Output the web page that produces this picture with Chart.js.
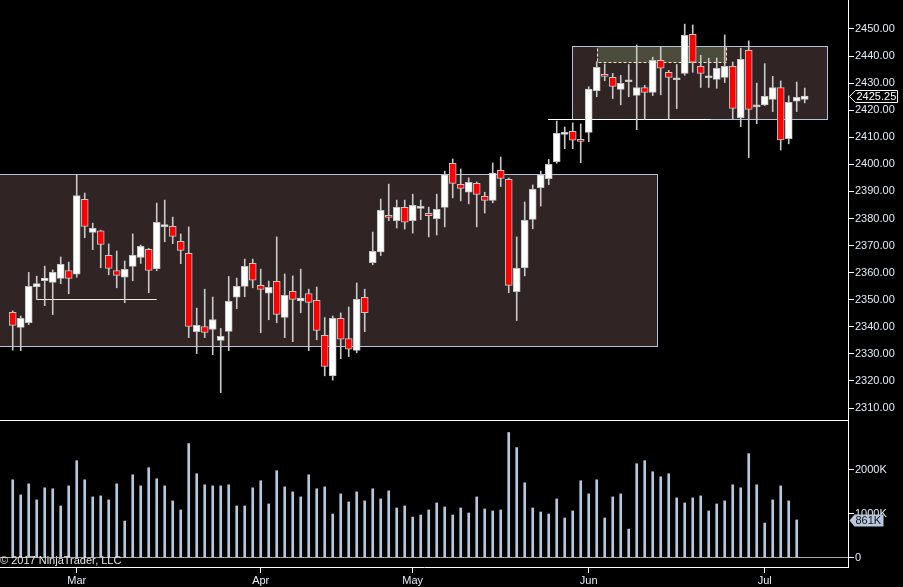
<!DOCTYPE html>
<html>
<head>
<meta charset="utf-8">
<script src="https://cdn.jsdelivr.net/npm/chart.js@4/dist/chart.umd.min.js"></script>
<style>
  html, body { margin: 0; padding: 0; background: #000; overflow: hidden; }
  #wrap { position: relative; width: 903px; height: 587px; }
  canvas { position: absolute; left: 0; }
  #price { top: 0; width: 903px; height: 421px; }
  #volume { top: 421px; width: 903px; height: 166px; }
</style>
</head>
<body>
<div id="wrap">
  <canvas id="price" width="903" height="421"></canvas>
  <canvas id="volume" width="903" height="166"></canvas>
</div>
<script>
// daily bars, Feb 16 - Jul 2017 (bar index = trading day)
const opens = [
  2345.3, 2339.8, 2341.5, 2354.8, 2357.0, 2356.4, 2357.9, 2360.8, 2359.4, 2387.1,
  2374.9, 2375.4, 2366.4, 2360.8, 2358.3, 2362.3, 2365.6, 2368.6, 2361.5, 2377.0,
  2377.1, 2371.6, 2367.1, 2338.2, 2340.1, 2339.0, 2335.0, 2338.3, 2350.9, 2354.9,
  2363.4, 2355.3, 2352.4, 2356.8, 2343.5, 2353.1, 2349.6, 2352.3, 2349.8, 2336.8,
  2321.9, 2343.1, 2335.6, 2331.3, 2350.9, 2363.7, 2367.7, 2381.2, 2379.2, 2384.1,
  2379.2, 2383.75, 2381.9, 2379.9, 2384.1, 2400.4, 2392.6, 2389.7, 2393.0, 2388.2,
  2386.7, 2397.8, 2394.5, 2353.0, 2361.8, 2379.7, 2391.4, 2394.7, 2401.0, 2411.1,
  2412.2, 2408.75, 2411.8, 2427.2, 2433.2, 2432.1, 2427.7, 2430.5, 2425.5, 2428.4,
  2426.6, 2438.4, 2434.0, 2431.25, 2433.6, 2448.0, 2436.2, 2432.0, 2431.4, 2432.1,
  2436.2, 2417.2, 2442.1, 2421.25, 2422.0, 2424.0, 2428.4, 2409.5, 2423.3, 2424.0
];
const highs = [
  2345.9, 2344.0, 2360.1, 2358.7, 2362.4, 2361.0, 2365.8, 2363.9, 2396.1, 2389.4,
  2378.3, 2375.7, 2370.6, 2368.0, 2364.3, 2374.3, 2370.2, 2369.0, 2385.7, 2386.8,
  2380.5, 2374.3, 2376.9, 2346.9, 2353.9, 2351.0, 2339.4, 2358.6, 2358.0, 2365.0,
  2365.0, 2361.3, 2356.9, 2373.2, 2359.5, 2358.8, 2361.3, 2353.9, 2354.7, 2343.4,
  2344.0, 2345.1, 2347.3, 2356.2, 2353.9, 2375.0, 2387.2, 2392.7, 2386.8, 2386.8,
  2389.0, 2386.8, 2384.2, 2389.0, 2397.5, 2402.0, 2398.3, 2395.0, 2393.5, 2389.7,
  2400.5, 2402.7, 2395.0, 2373.2, 2386.1, 2392.4, 2397.5, 2401.8, 2416.0, 2413.8,
  2415.3, 2414.9, 2428.7, 2437.9, 2437.1, 2433.6, 2432.9, 2436.9, 2444.1, 2429.2,
  2439.6, 2443.3, 2434.7, 2436.9, 2451.8, 2451.5, 2440.3, 2439.2, 2439.3, 2447.8,
  2437.8, 2442.9, 2445.6, 2430.0, 2437.2, 2432.5, 2430.8, 2425.3, 2430.4, 2428.2
];
const lows = [
  2331.4, 2331.2, 2340.8, 2350.1, 2347.8, 2344.5, 2355.9, 2352.2, 2358.3, 2372.9,
  2368.5, 2361.8, 2359.2, 2354.4, 2348.9, 2357.0, 2363.4, 2352.6, 2360.7, 2371.4,
  2370.7, 2363.3, 2336.0, 2330.1, 2336.0, 2329.7, 2315.7, 2331.2, 2346.7, 2351.1,
  2354.4, 2337.8, 2342.6, 2341.5, 2336.0, 2334.5, 2345.2, 2331.2, 2335.2, 2321.9,
  2320.3, 2328.2, 2329.0, 2330.4, 2338.2, 2362.9, 2366.3, 2379.2, 2376.5, 2376.1,
  2374.6, 2379.6, 2373.2, 2373.9, 2376.9, 2387.6, 2386.5, 2385.4, 2376.9, 2382.0,
  2385.8, 2391.8, 2352.6, 2342.3, 2358.8, 2376.2, 2384.6, 2392.5, 2400.4, 2405.8,
  2405.8, 2400.6, 2408.4, 2425.0, 2430.9, 2424.3, 2422.0, 2425.0, 2412.8, 2416.6,
  2425.4, 2425.7, 2416.6, 2420.6, 2432.9, 2434.0, 2428.4, 2428.4, 2428.1, 2430.2,
  2416.6, 2413.9, 2402.5, 2415.0, 2421.7, 2419.5, 2405.3, 2407.6, 2419.5, 2422.7
];
const closes = [
  2340.5, 2343.1, 2354.9, 2356.0, 2358.0, 2360.1, 2363.1, 2357.9, 2388.5, 2377.1,
  2376.4, 2370.4, 2361.6, 2359.0, 2361.2, 2366.4, 2369.7, 2360.8, 2378.6, 2377.25,
  2373.4, 2368.2, 2340.1, 2340.5, 2337.9, 2342.7, 2336.5, 2349.4, 2354.9, 2362.3,
  2357.2, 2353.8, 2354.6, 2344.6, 2351.6, 2350.1, 2350.6, 2349.0, 2338.7, 2325.4,
  2343.1, 2335.4, 2331.7, 2350.1, 2345.2, 2367.9, 2383.0, 2380.4, 2384.1, 2378.6,
  2384.9, 2384.0, 2381.0, 2383.4, 2396.1, 2393.0, 2391.1, 2393.4, 2388.9, 2386.7,
  2396.8, 2394.8, 2355.3, 2361.6, 2379.3, 2390.8, 2396.1, 2400.0, 2411.5, 2411.8,
  2408.9, 2408.5, 2427.8, 2435.8, 2432.5, 2428.8, 2429.9, 2430.75, 2428.4, 2426.6,
  2438.4, 2435.5, 2432.1, 2431.5, 2447.7, 2437.7, 2433.6, 2432.25, 2435.5, 2436.2,
  2420.7, 2438.8, 2420.3, 2421.5, 2425.1, 2428.4, 2409.0, 2422.9, 2424.8, 2425.25
];
// volume in thousands (today's bar has none yet)
const volumes = [
  1775, 1431, 1683, 1317, 1592, 1569, 1179, 1637, 2210, 1775,
  1385, 1408, 1317, 1683, 836, 1889, 1637, 2050, 1798, 1637,
  1294, 1088, 2599, 1912, 1660, 1637, 1637, 1660, 1179, 1179,
  1592, 1752, 1225, 1981, 1614, 1500, 1385, 1889, 1569, 1614,
  996, 1454, 1271, 1500, 1294, 1569, 1340, 1523, 1134, 1179,
  927, 973, 1088, 1248, 1156, 973, 1134, 1019, 1385, 1111,
  1065, 1088, 2851, 2508, 1706, 1134, 1042, 996, 1340, 905,
  1065, 1752, 1454, 1775, 905, 1385, 1454, 653, 2141, 2210,
  1958, 1843, 1912, 1363, 1248, 1363, 1408, 1065, 1225, 1294,
  1660, 1592, 2370, 1660, 790, 1317, 1637, 1294, 861, null
];
const monthStarts = [8, 31, 50, 72, 94];
const monthNames = ['Mar', 'Apr', 'May', 'Jun', 'Jul'];
const priceTicks = [2310, 2320, 2330, 2340, 2350, 2360, 2370, 2380, 2390, 2400, 2410, 2420, 2430, 2440, 2450];
const volumeTicks = [0, 1000, 2000];

// drawn zones and levels (bar index / price units)
const zones = [
  { from: -3, to: 80.54, low: 2332.9, high: 2396.4 },
  { from: 69.9, to: 101.8, low: 2416.8, high: 2443.7 }
];
const shadedBox = { from: 73.04, to: 89.2, low: 2437.7, high: 2443.7 };
const levels = [
  { from: 3, to: 18, price: 2350.1, color: '#f2ecd8' },
  { from: 66.9, to: 87.2, price: 2416.6, color: '#ffffff' }
];

const X_MIN = -1.59, X_MAX = 104.41;
const TEXT = '#e4ebf5';
Chart.defaults.font.family = '"Liberation Sans", Arial, sans-serif';
Chart.defaults.font.size = 11;

const idx = closes.map((c, i) => i);

// fixed axis boxes so both panels share the same plot width
function fixWidth(scale) {
  scale.width = 55;
  scale.paddingTop = 0;
  scale.paddingBottom = 0;
}
function fixHeight(scale) {
  scale.height = 20;
  scale.paddingLeft = 0;
  scale.paddingRight = 0;
}

const zonePlugin = {
  id: 'zones',
  beforeDatasetsDraw(chart) {
    const { ctx } = chart;
    const xs = chart.scales.x, ys = chart.scales.y;
    const box = (z) => {
      const x0 = Math.round(xs.getPixelForValue(z.from)) + 0.5;
      const x1 = Math.round(xs.getPixelForValue(z.to)) + 0.5;
      const y0 = Math.round(ys.getPixelForValue(z.high)) + 0.5;
      const y1 = Math.round(ys.getPixelForValue(z.low)) + 0.5;
      return [x0, y0, x1 - x0, y1 - y0];
    };
    ctx.save();
    ctx.lineWidth = 1;
    const a = box(zones[0]);
    ctx.fillStyle = '#302424';
    ctx.fillRect(...a);
    ctx.strokeStyle = '#b4c2d8';
    ctx.strokeRect(...a);
    const b = box(zones[1]);
    ctx.fillRect(...b);
    const s = box(shadedBox);
    ctx.fillStyle = '#4b4c3b';
    ctx.fillRect(...s);
    ctx.setLineDash([3, 2]);
    ctx.strokeStyle = '#f3e7b8';
    ctx.strokeRect(...s);
    ctx.setLineDash([]);
    ctx.strokeStyle = '#b4c2d8';
    ctx.strokeRect(...b);
    levels.forEach(l => {
      const y = Math.round(ys.getPixelForValue(l.price)) + 0.5;
      ctx.strokeStyle = l.color;
      ctx.beginPath();
      ctx.moveTo(xs.getPixelForValue(l.from), y);
      ctx.lineTo(xs.getPixelForValue(l.to), y);
      ctx.stroke();
    });
    ctx.restore();
  },
  afterDraw(chart) {
    const { ctx, chartArea } = chart;
    const ys = chart.scales.y;
    ctx.save();
    // panel separator
    ctx.strokeStyle = '#ffffff';
    ctx.lineWidth = 1;
    ctx.beginPath();
    ctx.moveTo(chartArea.left, chartArea.bottom - 0.5);
    ctx.lineTo(chartArea.right, chartArea.bottom - 0.5);
    ctx.stroke();
    // last price tag
    const last = closes[closes.length - 1];
    const y = Math.round(ys.getPixelForValue(last)) + 0.5;
    const x = chartArea.right + 1.5;
    ctx.beginPath();
    ctx.moveTo(x, y);
    ctx.lineTo(x + 6, y - 6);
    ctx.lineTo(x + 48, y - 6);
    ctx.lineTo(x + 48, y + 6);
    ctx.lineTo(x + 6, y + 6);
    ctx.closePath();
    ctx.fillStyle = '#000';
    ctx.fill();
    ctx.strokeStyle = '#ffffff';
    ctx.stroke();
    ctx.fillStyle = '#ffffff';
    ctx.textBaseline = 'middle';
    ctx.textAlign = 'left';
    ctx.fillText(last.toFixed(2), x + 7, y + 0.5);
    ctx.restore();
  }
};

new Chart(document.getElementById('price'), {
  type: 'bar',
  data: {
    datasets: [
      {
        label: 'wick',
        data: idx.map(i => ({ x: i, y: [lows[i], highs[i]] })),
        backgroundColor: '#c6c6c6',
        borderWidth: 0,
        barThickness: 1,
        grouped: false,
        order: 2
      },
      {
        label: 'body',
        data: idx.map(i => ({ x: i, y: [opens[i], closes[i]] })),
        backgroundColor: idx.map(i => closes[i] < opens[i] ? '#ff0000' : '#ffffff'),
        borderColor: '#c4c4c4',
        borderWidth: 1,
        borderSkipped: false,
        barThickness: 7,
        minBarLength: 2,
        grouped: false,
        order: 1
      }
    ]
  },
  options: {
    responsive: false,
    animation: false,
    layout: { padding: 0 },
    plugins: { legend: { display: false }, tooltip: { enabled: false } },
    scales: {
      x: { type: 'linear', display: false, min: X_MIN, max: X_MAX, offset: false, bounds: 'data' },
      y: {
        position: 'right',
        min: 2305.2, max: 2460.71, bounds: 'data',
        afterFit: fixWidth,
        afterBuildTicks(scale) { scale.ticks = priceTicks.map(v => ({ value: v })); },
        grid: { display: true, drawOnChartArea: false, drawTicks: true, tickLength: 6, tickColor: '#ffffff' },
        border: { display: true, color: '#ffffff', width: 1 },
        ticks: { color: TEXT, padding: 1, callback: v => v.toFixed(2) }
      }
    }
  },
  plugins: [zonePlugin]
});

const volumePlugin = {
  id: 'volumeTag',
  afterDraw(chart) {
    const { ctx, chartArea } = chart;
    const ys = chart.scales.y;
    ctx.save();
    let lastI = volumes.length - 1;
    while (volumes[lastI] == null) lastI--;
    const v = volumes[lastI];
    const y = Math.round(ys.getPixelForValue(v)) + 0.5;
    const x = chartArea.right + 1.5;
    ctx.beginPath();
    ctx.moveTo(x, y);
    ctx.lineTo(x + 5, y - 6);
    ctx.lineTo(x + 34, y - 6);
    ctx.lineTo(x + 34, y + 6);
    ctx.lineTo(x + 5, y + 6);
    ctx.closePath();
    ctx.fillStyle = '#b8c8dc';
    ctx.fill();
    ctx.fillStyle = '#111';
    ctx.textBaseline = 'middle';
    ctx.textAlign = 'left';
    ctx.fillText(v + 'K', x + 6, y + 0.5);
    // copyright
    ctx.fillStyle = '#e6e6e6';
    ctx.textBaseline = 'bottom';
    ctx.fillText('\u00a9 2017 NinjaTrader, LLC', chartArea.left, chartArea.bottom - 1);
    ctx.restore();
  }
};

new Chart(document.getElementById('volume'), {
  type: 'bar',
  data: {
    datasets: [{
      label: 'Volume',
      data: idx.map(i => ({ x: i, y: volumes[i] })),
      backgroundColor: '#b8c8dc',
      borderWidth: 0,
      barThickness: 2,
      grouped: false
    }]
  },
  options: {
    responsive: false,
    animation: false,
    layout: { padding: 0 },
    plugins: { legend: { display: false }, tooltip: { enabled: false } },
    scales: {
      x: {
        type: 'linear', position: 'bottom', min: X_MIN, max: X_MAX, offset: false, bounds: 'data',
        afterFit: fixHeight,
        afterBuildTicks(scale) { scale.ticks = monthStarts.map(v => ({ value: v })); },
        grid: { display: true, offset: false, drawOnChartArea: false, drawTicks: true, tickLength: 6, tickColor: '#ffffff' },
        border: { display: true, color: '#ffffff', width: 1 },
        ticks: { color: TEXT, padding: 1, maxRotation: 0, autoSkip: false,
                 callback: v => monthNames[monthStarts.indexOf(v)] }
      },
      y: {
        position: 'right',
        min: -210, max: 3113, bounds: 'data',
        afterFit: fixWidth,
        afterBuildTicks(scale) { scale.ticks = volumeTicks.map(v => ({ value: v })); },
        grid: {
          display: true, drawOnChartArea: true, drawTicks: true, tickLength: 6,
          color: c => (c.tick && c.tick.value === 0) ? '#a8a8a8' : 'rgba(0,0,0,0)',
          tickColor: '#ffffff'
        },
        border: { display: true, color: '#ffffff', width: 1 },
        ticks: { color: TEXT, padding: 1, callback: v => v === 0 ? '0' : v + 'K' }
      }
    }
  },
  plugins: [volumePlugin]
});
</script>
</body>
</html>
